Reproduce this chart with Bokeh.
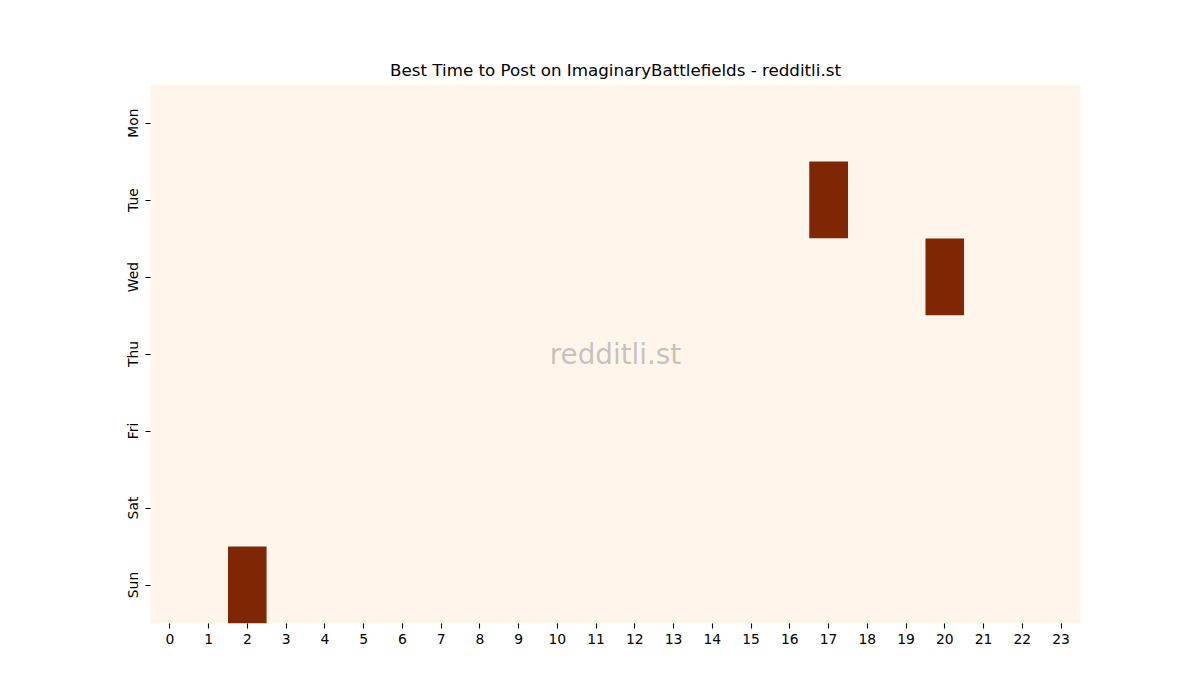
import math
from bokeh.plotting import figure
from bokeh.models import Range1d, FixedTicker, LinearColorMapper, ColumnDataSource
from bokeh.palettes import Oranges256
from bokeh.core.properties import value
from bokeh.embed import file_html
from bokeh.resources import INLINE

days = ["Mon", "Tue", "Wed", "Thu", "Fri", "Sat", "Sun"]
hours = [str(h) for h in range(24)]

mon = [0] * 24
tue = [0] * 17 + [1] + [0] * 6
wed = [0] * 20 + [1] + [0] * 3
thu = [0] * 24
fri = [0] * 24
sat = [0] * 24
sun = [0, 0, 1] + [0] * 21
scores = [mon, tue, wed, thu, fri, sat, sun]

xs, ys, vals = [], [], []
for j, row in enumerate(scores):
    for i, v in enumerate(row):
        xs.append(i + 0.5)
        ys.append(j + 0.5)
        vals.append(v)
src = ColumnDataSource(dict(x=xs, y=ys, v=vals))

FONT = "DejaVu Sans"
p = figure(frame_width=930, frame_height=539, min_border_left=150, min_border_right=104,
           min_border_top=84, min_border_bottom=61,
           x_range=Range1d(0, 24), y_range=Range1d(7, 0),
           output_backend="svg", toolbar_location=None, tools="",
           title="Best Time to Post on ImaginaryBattlefields - redditli.st")
p.title.align = "center"
p.title.text_font = FONT
p.title.text_font_size = "16.7px"
p.title.text_font_style = "normal"
p.title.text_color = "black"
p.outline_line_color = None
p.grid.visible = False
p.background_fill_color = "#fff5eb"

mapper = LinearColorMapper(palette=list(Oranges256[::-1]), low=0, high=1)
p.rect(x="x", y="y", width=1, height=1, source=src,
       fill_color={"field": "v", "transform": mapper}, line_color=None)

p.text(x=[12], y=[3.5], text=["redditli.st"], text_align="center", text_baseline="middle",
       text_font=value(FONT), text_font_size="27.8px", text_color="gray", text_alpha=0.45)

for ax, labels, n in ((p.xaxis[0], hours, 24), (p.yaxis[0], days, 7)):
    ax.ticker = FixedTicker(ticks=[k + 0.5 for k in range(n)])
    ax.major_label_overrides = {k + 0.5: labels[k] for k in range(n)}
    ax.axis_line_color = None
    ax.minor_tick_line_color = None
    ax.major_tick_out = 5
    ax.major_tick_in = 0
    ax.major_tick_line_width = 1.1
    ax.major_tick_line_color = "black"
    ax.major_label_text_font = FONT
    ax.major_label_text_font_size = "13.9px"
    ax.major_label_text_color = "black"
    ax.major_label_standoff = 5
p.yaxis[0].major_label_orientation = "vertical"

open("out.html", "w").write(file_html(p, INLINE))
